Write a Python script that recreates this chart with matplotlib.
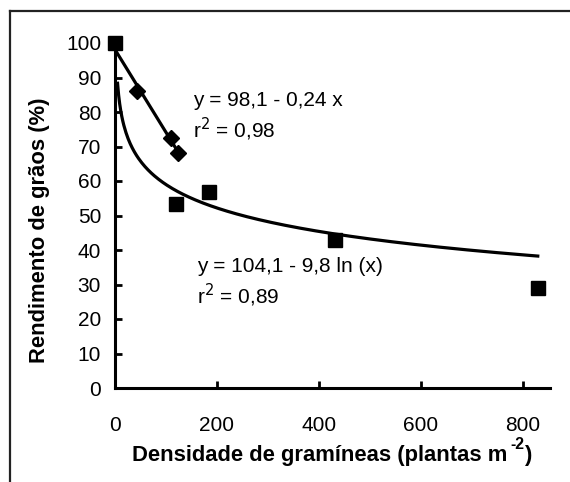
import numpy as np
import matplotlib
matplotlib.use("Agg")
import matplotlib.pyplot as plt
from matplotlib.lines import Line2D

plt.rcParams['font.family'] = ['Liberation Sans', 'DejaVu Sans']

# Data
lin_x = [44, 109, 124]
lin_y = [86, 72.6, 68]
log_x = [0, 120, 184, 431, 829]
log_y = [100, 53.3, 56.8, 42.9, 29]

# fitted equations shown on the chart
lin_a, lin_b = 98.1, -0.24
log_a, log_b = 104.1, -9.8

xticks = [0, 200, 400, 600, 800]
yticks = list(range(0, 101, 10))

FS = 15
LFS = 15.8
W, H = 570, 482

fig = plt.figure(figsize=(W/100, H/100), dpi=100)
ax = fig.add_axes([115/W, 1-388/H, (550-115)/W, (388-43)/H])

xl = np.linspace(0, 125, 50)
ax.plot(xl, lin_a + lin_b * xl, color='black', lw=2.3, clip_on=False, zorder=2)
xg = np.linspace(5, 829, 400)
ax.plot(xg, log_a + log_b * np.log(xg), color='black', lw=2.3, clip_on=False, zorder=2)

ax.plot(lin_x, lin_y, 'D', color='black', ms=8.5, clip_on=False, zorder=3)
ax.plot(log_x, log_y, 's', color='black', ms=9.5, clip_on=False, zorder=3)

ax.set_xlim(0, 853)
ax.set_ylim(0, 100)
ax.set_xticks(xticks)
ax.set_yticks(yticks)
for s in ['top', 'right']:
    ax.spines[s].set_visible(False)
for s in ['left', 'bottom']:
    ax.spines[s].set_linewidth(2.2)
ax.tick_params(direction='in', length=5, width=2, labelsize=FS, pad=10)
ax.tick_params(axis='x', pad=20)

ax.set_ylabel('Rendimento de grãos (%)', fontsize=LFS, fontweight='bold', va='center')
ax.yaxis.set_label_coords(40/W, 1-230/H, transform=fig.transFigure)

# x label with a hyphen superscript
base_y = 461
t1 = fig.text(132/W, 1-base_y/H, 'Densidade de gramíneas (plantas m', fontsize=LFS,
              fontweight='bold', ha='left', va='baseline')
fig.canvas.draw()
r = fig.canvas.get_renderer()
bb1 = t1.get_window_extent(r)
t2 = fig.text((bb1.x1 + 3)/W, 1-(base_y-12)/H, '-2', fontsize=LFS*0.72,
              fontweight='bold', ha='left', va='baseline')
fig.canvas.draw()
bb2 = t2.get_window_extent(r)
fig.text((bb2.x1 + 0.5)/W, 1-base_y/H, ')', fontsize=LFS, fontweight='bold',
         ha='left', va='baseline')

ax.text(193/W, 1-100/H, 'y = 98,1 - 0,24 x', transform=fig.transFigure,
        fontsize=FS, va='center', ha='left')
ax.text(193/W, 1-129/H, 'r$^2$ = 0,98', transform=fig.transFigure,
        fontsize=FS, va='center', ha='left')
ax.text(197/W, 1-267/H, 'y = 104,1 - 9,8 ln (x)', transform=fig.transFigure,
        fontsize=FS, va='center', ha='left')
ax.text(197/W, 1-295/H, 'r$^2$ = 0,89', transform=fig.transFigure,
        fontsize=FS, va='center', ha='left')

# partial frame around figure
fig.add_artist(Line2D([10/W, 10/W], [0, 1-11/H], transform=fig.transFigure,
                      color='#222222', lw=1.6))
fig.add_artist(Line2D([10/W, 1], [1-11/H, 1-11/H], transform=fig.transFigure,
                      color='#222222', lw=1.6))

fig.savefig('out.png', dpi=100)
